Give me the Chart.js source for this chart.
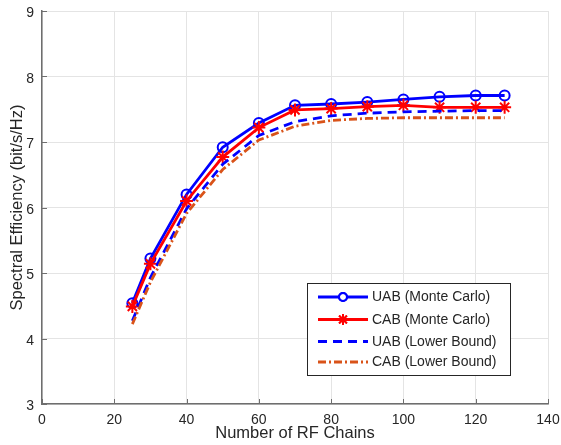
<!DOCTYPE html>
<html lang="en">
<head>
    <meta charset="UTF-8">
    <title>Spectral Efficiency vs RF Chains</title>
    <script src="https://cdn.jsdelivr.net/npm/chart.js"></script>
    <style>
        html, body { margin: 0; padding: 0; background: #fff; }
        .chart-container { position: relative; width: 561px; height: 445px; }
    </style>
</head>
<body>
    <div class="chart-container">
        <canvas id="seChart" width="561" height="445"></canvas>
    </div>

    <script>
        // data
        const rfChains = [25, 30, 40, 50, 60, 70, 80, 90, 100, 110, 120, 128];
        const uabMonteCarlo = [4.54, 5.22, 6.20, 6.92, 7.29, 7.56, 7.58, 7.61, 7.65, 7.69, 7.71, 7.71];
        const cabMonteCarlo = [4.49, 5.14, 6.10, 6.77, 7.22, 7.49, 7.51, 7.54, 7.56, 7.53, 7.53, 7.53];
        const uabLowerBound = [4.27, 4.93, 5.98, 6.66, 7.10, 7.31, 7.40, 7.44, 7.46, 7.47, 7.48, 7.48];
        const cabLowerBound = [4.22, 4.86, 5.91, 6.58, 7.03, 7.24, 7.33, 7.36, 7.37, 7.37, 7.37, 7.37];
        const xTicks = [0, 20, 40, 60, 80, 100, 120, 140];
        const yTicks = [3, 4, 5, 6, 7, 8, 9];

        const FONT = '"Liberation Sans", Arial, Helvetica, sans-serif';
        const TEXT = '#262626';
        const AXIS = '#6e6e6e';

        function toPoints(ys) {
            return rfChains.map((x, i) => ({ x: x, y: ys[i] }));
        }

        const seriesDefs = [
            { label: 'UAB (Monte Carlo)', data: uabMonteCarlo, color: '#0000ff', dash: [], point: 'circle', radius: 5, order: 4 },
            { label: 'CAB (Monte Carlo)', data: cabMonteCarlo, color: '#ff0000', dash: [], point: 'star', radius: 6.5, order: 3 },
            { label: 'UAB (Lower Bound)', data: uabLowerBound, color: '#0000ff', dash: [9, 6], point: false, radius: 0, order: 2 },
            { label: 'CAB (Lower Bound)', data: cabLowerBound, color: '#d95319', dash: [8, 3, 2, 3], point: false, radius: 0, order: 1 }
        ];

        // ticks inside the axes, matlab style
        const innerTicks = {
            id: 'innerTicks',
            afterDraw(chart) {
                const { ctx, chartArea: a, scales: { x, y } } = chart;
                ctx.save();
                ctx.strokeStyle = AXIS;
                ctx.lineWidth = 1;
                ctx.beginPath();
                xTicks.forEach(v => {
                    const px = Math.round(x.getPixelForValue(v)) + 0.5;
                    ctx.moveTo(px, a.bottom); ctx.lineTo(px, a.bottom - 5);
                });
                yTicks.forEach(v => {
                    const py = Math.round(y.getPixelForValue(v)) + 0.5;
                    ctx.moveTo(a.left, py); ctx.lineTo(a.left + 5, py);
                });
                ctx.stroke();
                ctx.restore();
            }
        };

        // boxed legend with line + marker samples
        const boxLegend = {
            id: 'boxLegend',
            afterDraw(chart) {
                const ctx = chart.ctx;
                const bx = 307.5, by = 283.5, bw = 203, bh = 92;
                const rows = [297, 319.5, 341.5, 362];
                ctx.save();
                ctx.fillStyle = '#fff';
                ctx.fillRect(bx, by, bw, bh);
                ctx.strokeStyle = '#262626';
                ctx.lineWidth = 1;
                ctx.strokeRect(bx, by, bw, bh);
                seriesDefs.forEach((s, i) => {
                    const ry = rows[i];
                    ctx.strokeStyle = s.color;
                    ctx.lineWidth = 2.8;
                    ctx.setLineDash(s.dash);
                    ctx.beginPath();
                    ctx.moveTo(318, ry); ctx.lineTo(368, ry);
                    ctx.stroke();
                    ctx.setLineDash([]);
                    if (s.point) {
                        ctx.lineWidth = 2;
                        Chart.helpers.drawPoint(ctx, { pointStyle: s.point, radius: s.point === 'circle' ? 4 : 5.5, borderWidth: 2 }, 343, ry);
                        ctx.stroke();
                    }
                    ctx.fillStyle = TEXT;
                    ctx.font = '14px ' + FONT;
                    ctx.textBaseline = 'middle';
                    ctx.fillText(s.label, 372, ry + 0.5);
                });
                ctx.restore();
            }
        };

        const ctx = document.getElementById('seChart').getContext('2d');
        const chart = new Chart(ctx, {
            type: 'line',
            data: {
                datasets: seriesDefs.map(s => ({
                    label: s.label,
                    data: toPoints(s.data),
                    borderColor: s.color,
                    backgroundColor: s.color,
                    borderWidth: 2.8,
                    borderDash: s.dash,
                    pointStyle: s.point || 'circle',
                    pointRadius: s.radius,
                    pointBorderWidth: 2,
                    pointBorderColor: s.color,
                    pointBackgroundColor: 'rgba(0,0,0,0)',
                    tension: 0,
                    fill: false,
                    order: s.order
                }))
            },
            options: {
                responsive: false,
                animation: false,
                events: [],
                layout: { padding: { left: 0, top: 11, right: 13, bottom: 0 } },
                plugins: {
                    legend: { display: false },
                    tooltip: { enabled: false }
                },
                scales: {
                    x: {
                        type: 'linear',
                        min: 0,
                        max: 140,
                        afterBuildTicks: (scale) => { scale.ticks = xTicks.map(v => ({ value: v })); },
                        afterFit: (scale) => {
                            scale.height = 41;
                            scale.paddingLeft = 0;
                            scale.paddingRight = 0;
                        },
                        ticks: { color: TEXT, font: { family: FONT, size: 14 }, padding: 8, maxRotation: 0 },
                        grid: { color: '#e4e4e4', drawTicks: false },
                        border: { color: AXIS, width: 1.5 },
                        title: {
                            display: true,
                            text: 'Number of RF Chains',
                            color: TEXT,
                            font: { family: FONT, size: 16.5 },
                            padding: { top: 0, bottom: 2 }
                        }
                    },
                    y: {
                        min: 3,
                        max: 9,
                        afterBuildTicks: (scale) => { scale.ticks = yTicks.map(v => ({ value: v })); },
                        afterFit: (scale) => {
                            scale.width = 42;
                            scale.paddingTop = 0;
                            scale.paddingBottom = 0;
                        },
                        ticks: { color: TEXT, font: { family: FONT, size: 14 }, padding: 8, labelOffset: 2.5 },
                        grid: { color: '#e4e4e4', drawTicks: false },
                        border: { color: AXIS, width: 1.5 },
                        title: {
                            display: true,
                            text: 'Spectral Efficiency (bit/s/Hz)',
                            color: TEXT,
                            font: { family: FONT, size: 16.5 },
                            padding: { top: 8, bottom: 0 }
                        }
                    }
                }
            },
            plugins: [innerTicks, boxLegend]
        });
    </script>
</body>
</html>
